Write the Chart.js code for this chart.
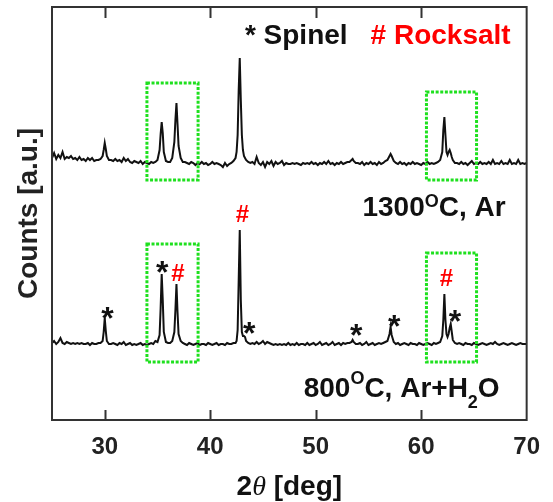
<!DOCTYPE html>
<html>
<head>
<meta charset="utf-8">
<script src="https://cdn.jsdelivr.net/npm/chart.js@4.4.0/dist/chart.umd.min.js"></script>
<style>
  html, body { margin: 0; padding: 0; background: #fff; }
</style>
</head>
<body>
<canvas id="graficoXRD" width="553" height="502"></canvas>
<script>
// 2theta grid (deg), finer around the reflections
const twoTheta = [
  25.0, 25.2, 25.4, 25.6, 25.8, 26.0, 26.2, 26.4, 26.6, 26.8, 27.0, 27.2, 27.4, 27.6, 27.8, 28.0, 28.2, 28.4, 28.6, 28.8, 29.0, 29.2, 29.4,
  29.6, 29.8, 29.9, 30.0, 30.1, 30.2, 30.4,
  30.6, 30.8, 31.0, 31.2, 31.4, 31.6, 31.8, 32.0, 32.2, 32.4, 32.6, 32.8, 33.0, 33.2, 33.4, 33.6, 33.8, 34.0, 34.2, 34.4, 34.6, 34.8,
  35.0, 35.2, 35.3, 35.4, 35.5, 35.6, 35.8,
  36.0, 36.2, 36.4, 36.6, 36.7, 36.8, 36.9, 37.0, 37.2, 37.4,
  37.6, 37.8, 38.0, 38.2, 38.4, 38.6, 38.8, 39.0, 39.2, 39.4, 39.6, 39.8, 40.0, 40.2, 40.4, 40.6, 40.8, 41.0, 41.2, 41.4, 41.6, 41.8, 42.0, 42.2,
  42.4, 42.5, 42.6, 42.7, 42.8, 42.9, 43.0, 43.1, 43.2, 43.3, 43.4, 43.6, 43.8,
  44.0, 44.2, 44.4, 44.6, 44.8, 45.0, 45.2, 45.4, 45.6, 45.8,
  46.0, 46.2, 46.4, 46.6, 46.8, 47.0, 47.2, 47.4, 47.6, 47.8,
  48.0, 48.2, 48.4, 48.6, 48.8, 49.0, 49.2, 49.4, 49.6, 49.8,
  50.0, 50.2, 50.4, 50.6, 50.8, 51.0, 51.2, 51.4, 51.6, 51.8,
  52.0, 52.2, 52.4, 52.6, 52.8, 53.0,
  53.2, 53.4, 53.5, 53.6, 53.8,
  54.0, 54.2, 54.4, 54.6, 54.8, 55.0, 55.2, 55.4, 55.6, 55.8, 56.0, 56.2, 56.4, 56.6,
  56.8, 57.0, 57.1, 57.2, 57.4,
  57.6, 57.8, 58.0, 58.2, 58.4, 58.6, 58.8, 59.0, 59.2, 59.4, 59.6, 59.8, 60.0, 60.2, 60.4, 60.6, 60.8, 61.0, 61.2, 61.4, 61.6,
  61.8, 62.0, 62.1, 62.2, 62.3, 62.4, 62.5, 62.6, 62.7, 62.8, 62.9, 63.0, 63.2,
  63.4, 63.6, 63.8, 64.0, 64.2, 64.4, 64.6, 64.8, 65.0, 65.2,
  65.4, 65.6, 65.8, 66.0, 66.2, 66.4, 66.6, 66.8, 67.0, 67.2,
  67.4, 67.6, 67.8, 68.0, 68.2, 68.4, 68.6, 68.8, 69.0, 69.2,
  69.4, 69.6, 69.8, 70.0
];

// 1300 C, Ar (stacked on top)
const counts1300Ar = [
  262, 267, 261, 265, 262, 268, 261, 263, 262, 264, 261, 262, 260, 263, 260, 261, 259, 262, 260, 262, 259, 260, 260,
  261, 264, 270, 277, 271, 264, 260,
  260, 259, 261, 259, 260, 258, 262, 259, 261, 258, 257, 259, 258, 257, 259, 256, 258, 257, 256, 258, 257, 258,
  260, 270, 286, 298, 287, 268, 259,
  258, 258, 262, 278, 300, 317, 296, 274, 262, 258,
  258, 257, 256, 258, 257, 255, 257, 256, 258, 256, 257, 255, 256, 258, 256, 257, 256, 255, 253, 257, 254, 256, 257, 259,
  262, 268, 285, 330, 362, 320, 285, 270, 264, 262, 260, 258, 257,
  258, 256, 263, 257, 255, 258, 253, 258, 256, 259,
  254, 258, 256, 257, 259, 255, 257, 256, 256, 257,
  256, 257, 256, 255, 257, 256, 257, 256, 258, 256,
  257, 255, 257, 256, 258, 256, 259, 256, 257, 255,
  257, 256, 258, 256, 257, 258,
  258, 260, 261, 259, 257,
  257, 256, 258, 255, 257, 256, 258, 256, 257, 255, 258, 256, 257, 259,
  260, 264, 266, 264, 259,
  257, 256, 258, 256, 257, 255, 257, 256, 258, 256, 257, 256, 255, 257, 256, 258, 256, 257, 256, 257, 258,
  260, 268, 290, 303, 285, 268, 265, 268, 270, 267, 263, 260, 257,
  257, 256, 258, 256, 257, 255, 257, 259, 256, 257,
  256, 258, 256, 257, 256, 258, 256, 260, 256, 257,
  256, 259, 256, 257, 256, 260, 256, 257, 256, 260,
  256, 257, 256, 257
];

// 800 C, Ar+H2O
const counts800ArH2O = [
  77, 79, 76, 78, 82, 77, 76, 78, 77, 76, 77, 76, 77, 76, 77, 76, 76, 77, 75, 77, 76, 76, 77,
  77, 79, 88, 102, 89, 79, 76,
  76, 77, 76, 75, 77, 76, 78, 75, 76, 77, 75, 76, 75, 76, 77, 75, 76, 75, 76, 77, 76, 79,
  78, 85, 112, 146, 120, 88, 78,
  77, 77, 79, 88, 110, 136, 108, 86, 79, 77,
  76, 75, 77, 76, 75, 76, 77, 75, 76, 76, 75, 77, 76, 75, 76, 77, 75, 76, 76, 75, 77, 76, 76, 77,
  77, 79, 90, 140, 190, 120, 88, 84, 84, 83, 79, 77, 76,
  77, 76, 78, 76, 77, 79, 76, 78, 77, 76,
  75, 76, 75, 76, 75, 76, 75, 77, 75, 76,
  75, 77, 75, 76, 76, 75, 77, 75, 76, 77,
  75, 76, 78, 75, 76, 77, 75, 76, 78, 75,
  76, 77, 75, 77, 76, 77,
  77, 78, 80, 78, 76,
  76, 77, 75, 76, 78, 75, 76, 77, 75, 76, 77, 76, 77, 78,
  79, 86, 93, 85, 78,
  76, 77, 75, 76, 77, 76, 75, 77, 76, 76, 75, 77, 76, 75, 76, 77, 76, 75, 77, 76, 77,
  78, 84, 100, 126, 100, 86, 83, 86, 92, 96, 88, 80, 77,
  76, 77, 76, 75, 77, 76, 76, 75, 77, 76,
  75, 76, 77, 76, 75, 76, 77, 76, 78, 76,
  75, 76, 77, 76, 75, 76, 77, 76, 75, 76,
  77, 76, 76, 76
];

const xTicks = [30, 40, 50, 60, 70];

// phase markers: * spinel, # rocksalt (2theta, height of the symbol)
const spinelTheta = [30.25, 35.45, 43.7, 53.85, 57.45, 63.2];
const spinelY = [110, 156, 95, 93, 102, 107];
const rocksaltTheta = [36.95, 43.05, 62.4];
const rocksaltY = [148, 207, 143];

// highlighted regions (dashed green boxes)
const boxThetaFrom = [34.0, 60.5, 34.0, 60.5];
const boxThetaTo = [38.85, 65.25, 38.85, 65.25];
const boxCountsFrom = [240, 240, 58, 58];
const boxCountsTo = [337, 328, 176, 167];

const FONT = '"Liberation Sans", Arial, Helvetica, sans-serif';
const INK = '#111';
const RED = '#ff0000';

function toPoints(ys) {
  return twoTheta.map((t, i) => ({ x: t, y: ys[i] }));
}

function drawParts(ctx, parts, xRight, baseline) {
  let total = 0;
  parts.forEach(p => { ctx.font = p.font; total += ctx.measureText(p.text).width; });
  let x = xRight - total;
  ctx.textAlign = 'left';
  ctx.textBaseline = 'alphabetic';
  parts.forEach(p => {
    ctx.font = p.font;
    ctx.fillStyle = p.color || INK;
    ctx.fillText(p.text, x, baseline + (p.dy || 0));
    x += ctx.measureText(p.text).width;
  });
}

const decoracao = {
  id: 'decoracao',
  afterDatasetsDraw(chart) {
    const { ctx, chartArea: a, scales: { x, y } } = chart;
    ctx.save();

    // dashed boxes
    ctx.strokeStyle = '#1ee01e';
    ctx.lineWidth = 3;
    ctx.setLineDash([3, 1.6]);
    for (let i = 0; i < boxThetaFrom.length; i++) {
      const x0 = x.getPixelForValue(boxThetaFrom[i]);
      const x1 = x.getPixelForValue(boxThetaTo[i]);
      const y0 = y.getPixelForValue(boxCountsTo[i]);
      const y1 = y.getPixelForValue(boxCountsFrom[i]);
      ctx.strokeRect(x0, y0, x1 - x0, y1 - y0);
    }
    ctx.setLineDash([]);

    // frame + inward ticks
    ctx.strokeStyle = '#333';
    ctx.lineWidth = 2;
    ctx.strokeRect(a.left, a.top, a.right - a.left, a.bottom - a.top);
    xTicks.forEach(v => {
      if (v >= x.max) return;
      const px = Math.round(x.getPixelForValue(v)) + 0.5;
      ctx.beginPath();
      ctx.moveTo(px, a.bottom);
      ctx.lineTo(px, a.bottom - 10);
      ctx.moveTo(px, a.top);
      ctx.lineTo(px, a.top + 11);
      ctx.stroke();
    });

    // phase symbols above the peaks
    ctx.textAlign = 'center';
    ctx.textBaseline = 'alphabetic';
    ctx.fillStyle = INK;
    ctx.font = 'bold 32px ' + FONT;
    spinelTheta.forEach((t, i) => {
      ctx.fillText('*', x.getPixelForValue(t), y.getPixelForValue(spinelY[i]) + 18.5);
    });
    ctx.fillStyle = RED;
    ctx.font = 'bold 24px ' + FONT;
    rocksaltTheta.forEach((t, i) => {
      ctx.fillText('#', x.getPixelForValue(t), y.getPixelForValue(rocksaltY[i]) + 8.6);
    });

    // legend
    const big = 'bold 28px ' + FONT;
    const small = 'bold 18px ' + FONT;
    ctx.font = big;
    const wRock = ctx.measureText('# Rocksalt').width;
    drawParts(ctx, [{ text: '# Rocksalt', font: big, color: RED }], a.right - 16, 44);
    drawParts(ctx, [{ text: '* Spinel', font: big }], a.right - 16 - wRock - 23, 44);

    // sample conditions
    drawParts(ctx, [
      { text: '1300', font: big },
      { text: 'O', font: small, dy: -9 },
      { text: 'C, Ar', font: big }
    ], a.right - 21, 216);
    drawParts(ctx, [
      { text: '800', font: big },
      { text: 'O', font: small, dy: -13 },
      { text: 'C, Ar+H', font: big },
      { text: '2', font: small, dy: 11 },
      { text: 'O', font: big }
    ], a.right - 27, 397);

    // x axis title: 2θ [deg]
    const cx = (a.left + a.right) / 2;
    const tParts = [
      { text: '2', font: 'bold 28px ' + FONT },
      { text: 'θ', font: 'italic 28px "Liberation Serif", "Times New Roman", serif' },
      { text: ' [deg]', font: 'bold 28px ' + FONT }
    ];
    let tw = 0;
    tParts.forEach(p => { ctx.font = p.font; tw += ctx.measureText(p.text).width; });
    drawParts(ctx, tParts, cx + tw / 2, 495);

    ctx.restore();
  }
};

const ctx = document.getElementById('graficoXRD');
new Chart(ctx, {
  type: 'line',
  data: {
    datasets: [
      {
        label: '1300°C, Ar',
        data: toPoints(counts1300Ar),
        borderColor: INK,
        borderWidth: 2,
        pointRadius: 0,
        tension: 0,
        fill: false
      },
      {
        label: '800°C, Ar+H2O',
        data: toPoints(counts800ArH2O),
        borderColor: INK,
        borderWidth: 2,
        pointRadius: 0,
        tension: 0,
        fill: false
      }
    ]
  },
  options: {
    responsive: false,
    animation: false,
    devicePixelRatio: 1,
    layout: { padding: { top: 7, right: 24, left: 0, bottom: 0 } },
    plugins: { legend: { display: false }, tooltip: { enabled: false } },
    scales: {
      x: {
        type: 'linear',
        min: 25,
        max: 70,
        grid: { display: false, drawTicks: false },
        border: { display: false },
        afterBuildTicks: ax => { ax.ticks = xTicks.map(v => ({ value: v })); },
        afterFit: ax => { ax.height = 82; },
        ticks: {
          font: { family: FONT, size: 24, weight: 'bold' },
          color: '#222',
          padding: 13,
          maxRotation: 0,
          autoSkip: false
        }
      },
      y: {
        min: 0,
        max: 413,
        grid: { display: false, drawTicks: false },
        border: { display: false },
        ticks: { display: false },
        afterFit: ax => { ax.width = 52; },
        title: {
          display: true,
          text: 'Counts [a.u.]',
          color: '#222',
          font: { family: FONT, size: 28, weight: 'bold' },
          padding: { top: 12, bottom: 0 }
        }
      }
    }
  },
  plugins: [decoracao]
});
</script>
</body>
</html>
